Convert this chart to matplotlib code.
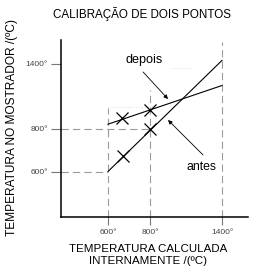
"""Two-point calibration schematic"""

import numpy as np
import matplotlib
matplotlib.use("Agg")
import matplotlib.pyplot as plt

# calibration lines, in degrees C (x: computed internally, y: shown on display)
antes_x = [600, 1400]
antes_y = [600, 1430]
depois_x = [600, 1400]
depois_y = [840, 1200]

# the two calibration points marked on each line
antes_marks_x = [670, 800]
antes_marks_y = [670, 800]
depois_marks_x = [665, 800]
depois_marks_y = [895, 975]

x_ticks = [600, 800, 1400]
y_ticks = [600, 800, 1400]
tick_labels = ["600°", "800°", "1400°"]

# schematic (non-linear) axis spacing
X_KNOTS = [400, 600, 800, 1400, 1700]
X_POS = [0, 47, 89, 161, 187]
Y_KNOTS = [400, 600, 800, 1400, 1600]
Y_POS = [0, 45.5, 88.5, 153, 177]


def make_scale(knots, pos):
    fwd = lambda v: np.interp(v, knots, pos)
    inv = lambda p: np.interp(p, pos, knots)
    return fwd, inv


def fit_length(fig, txt, target_px, vertical=False):
    """shrink/grow a text so its long side spans target_px"""
    r = fig.canvas.get_renderer()
    bb = txt.get_window_extent(r)
    size = bb.height if vertical else bb.width
    txt.set_fontsize(txt.get_fontsize() * target_px / size)


plt.rcParams["font.family"] = ["Liberation Sans", "DejaVu Sans"]

fig = plt.figure(figsize=(2.56, 2.75), dpi=100)
ax = fig.add_axes([61 / 256, 1 - 217 / 275, 187 / 256, 177 / 275])
ax.set_xscale("function", functions=make_scale(X_KNOTS, X_POS))
ax.set_yscale("function", functions=make_scale(Y_KNOTS, Y_POS))
ax.set_xlim(400, 1700)
ax.set_ylim(400, 1600)

grey = "#9a9a9a"
dash = (0, (6.5, 3.8))
# guide lines
ax.plot([400, 600], [600, 600], color=grey, lw=0.8, ls=dash)
ax.plot([400, 800], [800, 800], color=grey, lw=0.8, ls=dash)
ax.plot([600, 600], [400, 990], color=grey, lw=0.8, ls=dash)
ax.plot([800, 800], [400, 1160], color=grey, lw=0.8, ls=dash)
ax.plot([1400, 1400], [400, 1585], color=grey, lw=0.8, ls=dash)
ax.plot([600, 800], [1000, 1000], color="#e4e4e4", lw=0.8, ls=(0, (1, 1.5)))
ax.plot([985, 1150], [1360, 1360], color="#e4e4e4", lw=0.8, ls=(0, (1, 1.5)))

# before / after lines
ax.plot(antes_x, antes_y, color="black", lw=0.8)
ax.plot(depois_x, depois_y, color="black", lw=0.8)
ax.plot(antes_marks_x, antes_marks_y, ls="none", marker="x", ms=8.5, mew=0.9, color="black")
ax.plot(depois_marks_x, depois_marks_y, ls="none", marker="x", ms=8.5, mew=0.9, color="black")

arrow = dict(arrowstyle="-|>", color="black", lw=0.6, mutation_scale=6, shrinkA=0, shrinkB=0)
ax.annotate("", xy=(950, 1074), xytext=(767, 1326), arrowprops=arrow)
ax.annotate("", xy=(950, 879), xytext=(1242, 677), arrowprops=arrow)
t_dep = ax.text(771, 1430, "depois", fontsize=7.2, ha="center", va="center")
t_ant = ax.text(1233, 621, "antes", fontsize=7.2, ha="center", va="center")

ax.set_xticks(x_ticks)
ax.set_xticklabels(tick_labels)
ax.set_yticks(y_ticks)
ax.set_yticklabels(tick_labels)
ax.tick_params(axis="x", length=6, width=0.8, color="#777777", pad=3,
               labelsize=6, labelcolor="#444444")
ax.tick_params(axis="y", length=7, width=0.8, color="#777777", pad=2.5,
               labelsize=6, labelcolor="#444444")

for side in ["top", "right"]:
    ax.spines[side].set_visible(False)
for side in ["left", "bottom"]:
    ax.spines[side].set_linewidth(1.1)

t_title = fig.text(142 / 256, 1 - 14 / 275, "CALIBRAÇÃO DE DOIS PONTOS", fontsize=9,
                   ha="center", va="center")
t_ylab = fig.text(12 / 256, 1 - 128 / 275, "TEMPERATURA NO MOSTRADOR /(ºC)", fontsize=9,
                  rotation=90, ha="center", va="center")
t_xlab = fig.text(148 / 256, 1 - 255 / 275, "TEMPERATURA CALCULADA\nINTERNAMENTE /(ºC)",
                  fontsize=9, ha="center", va="center", linespacing=1.2)

# match the text spans measured on the original
fig.canvas.draw()
fit_length(fig, t_title, 179)
fit_length(fig, t_ylab, 217, vertical=True)
fit_length(fig, t_xlab, 157)
fit_length(fig, t_dep, 37)
fit_length(fig, t_ant, 30)

fig.savefig("out.png", dpi=100)
